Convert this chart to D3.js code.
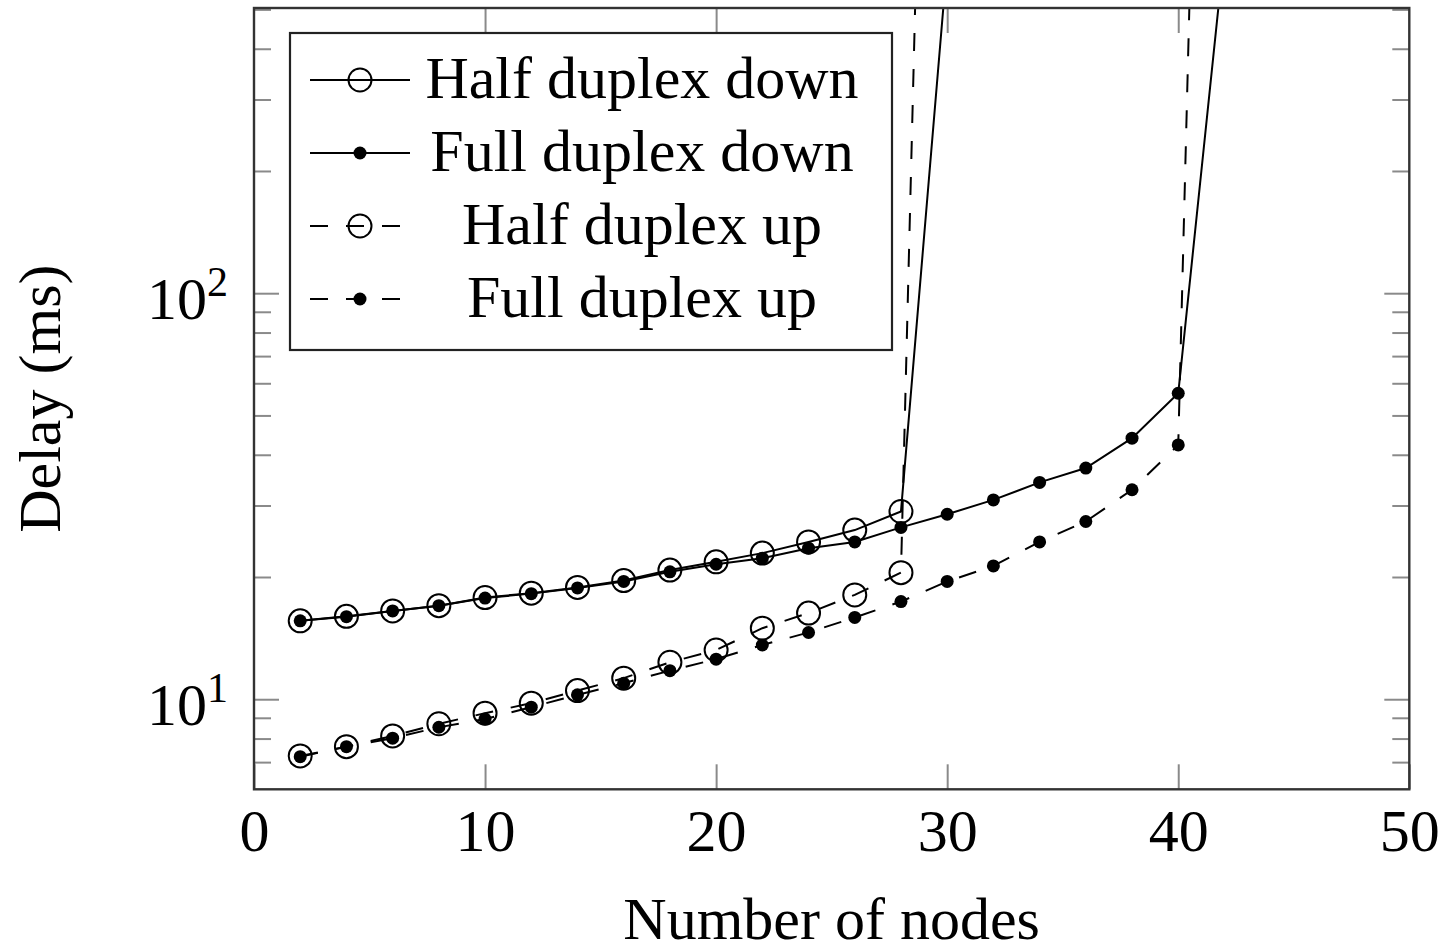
<!DOCTYPE html>
<html>
<head>
<meta charset="utf-8">
<script src="https://cdn.jsdelivr.net/npm/d3@7"></script>
<style>
  body { margin: 0; background: #fff; }
  text { font-family: "Liberation Serif", "Times New Roman", serif; fill: #000; }
</style>
</head>
<body>
<svg id="chart" width="1443" height="946"></svg>
<script>
// Number of nodes for each scheme (the last point of each series lies far above the plotted range)
const halfNodes = [2, 4, 6, 8, 10, 12, 14, 16, 18, 20, 22, 24, 26, 28, 30];
const fullNodes = [2, 4, 6, 8, 10, 12, 14, 16, 18, 20, 22, 24, 26, 28, 30, 32, 34, 36, 38, 40, 42];

// Delay in ms
const halfDown = [15.6, 16.0, 16.5, 17.0, 17.8, 18.25, 18.85, 19.6, 20.8, 21.8, 22.9, 24.4, 26.1, 29.0, 655];
const fullDown = [15.6, 15.97, 16.5, 17.0, 17.75, 18.2, 18.8, 19.5, 20.6, 21.5, 22.25, 23.55, 24.4, 26.5,
                  28.55, 30.97, 34.2, 37.1, 43.95, 56.7, 703];
const halfUp   = [7.25, 7.64, 8.12, 8.7, 9.24, 9.78, 10.5, 11.27, 12.33, 13.22, 14.96, 16.3, 18.07, 20.5, 720000];
const fullUp   = [7.22, 7.64, 8.02, 8.53, 8.94, 9.56, 10.25, 10.95, 11.76, 12.55, 13.6, 14.6, 15.9, 17.4,
                  19.5, 21.3, 24.4, 27.4, 32.8, 42.3, 1280000];

const seriesNames = ["Half duplex down", "Full duplex down", "Half duplex up", "Full duplex up"];

const xTicks = [0, 10, 20, 30, 40, 50];
const yMajorTicks = [10, 100];
const yMinorTicks = [7, 8, 9, 20, 30, 40, 50, 60, 70, 80, 90, 200, 300, 400, 500];
const xDomain = [0, 50];
const yDomain = [6, 504];

const svg = d3.select("#chart");
const plotLeft = 254, plotRight = 1409.3, plotTop = 8, plotBottom = 789.3;

const x = d3.scaleLinear().domain(xDomain).range([plotLeft, plotRight]);
const y = d3.scaleLog().domain(yDomain).range([plotBottom, plotTop]);

svg.append("rect").attr("width", 1443).attr("height", 946).attr("fill", "#fff");

svg.append("defs").append("clipPath").attr("id", "plotClip")
  .append("rect").attr("x", plotLeft).attr("y", plotTop)
  .attr("width", plotRight - plotLeft).attr("height", plotBottom - plotTop);

// ---- ticks (pointing inward on all four sides) ----
const tickColor = "#8a8a8a";
function styleAxis(g) {
  g.select(".domain").remove();
  g.selectAll(".tick line").attr("stroke", tickColor).attr("stroke-width", 2);
}

const xBottom = svg.append("g").attr("transform", `translate(0,${plotBottom})`)
  .call(d3.axisBottom(x).tickValues(xTicks).tickSize(-25).tickPadding(19).tickFormat(d3.format("d")));
styleAxis(xBottom);
xBottom.selectAll(".tick text").attr("font-size", 60).attr("font-family", "Liberation Serif").attr("fill", "#000");

const xTop = svg.append("g").attr("transform", `translate(0,${plotTop})`)
  .call(d3.axisTop(x).tickValues(xTicks.slice(1, -1)).tickSize(-25).tickFormat(""));
styleAxis(xTop);

const yLeftMinor = svg.append("g").attr("transform", `translate(${plotLeft},0)`)
  .call(d3.axisLeft(y).tickValues(yMinorTicks).tickSize(-17).tickFormat(""));
styleAxis(yLeftMinor);
const yRightMinor = svg.append("g").attr("transform", `translate(${plotRight},0)`)
  .call(d3.axisRight(y).tickValues(yMinorTicks).tickSize(-17).tickFormat(""));
styleAxis(yRightMinor);
const yRight = svg.append("g").attr("transform", `translate(${plotRight},0)`)
  .call(d3.axisRight(y).tickValues(yMajorTicks).tickSize(-25).tickFormat(""));
styleAxis(yRight);

const yLeft = svg.append("g").attr("transform", `translate(${plotLeft},0)`)
  .call(d3.axisLeft(y).tickValues(yMajorTicks).tickSize(-25).tickPadding(26));
styleAxis(yLeft);
yLeft.selectAll(".tick text").each(function (d) {
  const t = d3.select(this);
  const exp = Math.round(Math.log10(d));
  t.text(null).attr("font-size", 60).attr("font-family", "Liberation Serif")
    .attr("dy", "0.42em").attr("fill", "#000");
  t.append("tspan").text("10");
  t.append("tspan").attr("font-size", 42).attr("dy", -23).text(String(exp));
});

// ---- axis titles ----
svg.append("text").attr("x", (plotLeft + plotRight) / 2).attr("y", 939)
  .attr("text-anchor", "middle").attr("font-size", 60).text("Number of nodes");
svg.append("text").attr("transform", `translate(60,${(plotTop + plotBottom) / 2}) rotate(-90)`)
  .attr("text-anchor", "middle").attr("font-size", 60).text("Delay (ms)");

// ---- data ----
const lineStroke = "#000";
const series = [
  { name: seriesNames[0], nodes: halfNodes, values: halfDown, dash: null, open: true },
  { name: seriesNames[1], nodes: fullNodes, values: fullDown, dash: null, open: false },
  { name: seriesNames[2], nodes: halfNodes, values: halfUp, dash: "18,18", open: true },
  { name: seriesNames[3], nodes: fullNodes, values: fullUp, dash: "18,18", open: false }
];

const plot = svg.append("g").attr("clip-path", "url(#plotClip)");
const line = d3.line().x(d => x(d[0])).y(d => y(d[1]));

function drawMarker(g, cx, cy, open) {
  if (open) {
    g.append("circle").attr("cx", cx).attr("cy", cy).attr("r", 11.5)
      .attr("fill", "none").attr("stroke", lineStroke).attr("stroke-width", 2);
  } else {
    g.append("circle").attr("cx", cx).attr("cy", cy).attr("r", 6.5).attr("fill", lineStroke);
  }
}

series.forEach(s => {
  const pts = s.nodes.map((n, i) => [n, s.values[i]]);
  const g = plot.append("g");
  g.append("path").datum(pts).attr("d", line)
    .attr("fill", "none").attr("stroke", lineStroke).attr("stroke-width", 2)
    .attr("stroke-dasharray", s.dash);
  pts.filter(p => p[1] <= yDomain[1]).forEach(p => drawMarker(g, x(p[0]), y(p[1]), s.open));
});

// ---- frame ----
svg.append("rect").attr("x", plotLeft).attr("y", plotTop)
  .attr("width", plotRight - plotLeft).attr("height", plotBottom - plotTop)
  .attr("fill", "none").attr("stroke", "#333").attr("stroke-width", 2.4);

// ---- legend ----
const legend = svg.append("g");
legend.append("rect").attr("x", 290).attr("y", 33).attr("width", 602).attr("height", 317)
  .attr("fill", "#fff").attr("stroke", "#222").attr("stroke-width", 2.2);
series.forEach((s, i) => {
  const cy = 80 + i * 73;
  legend.append("path").attr("d", `M310,${cy}H410`)
    .attr("fill", "none").attr("stroke", lineStroke).attr("stroke-width", 2)
    .attr("stroke-dasharray", s.dash);
  drawMarker(legend, 360, cy, s.open);
  legend.append("text").attr("x", 642).attr("y", cy + 18)
    .attr("text-anchor", "middle").attr("font-size", 60).text(s.name);
});
</script>
</body>
</html>
